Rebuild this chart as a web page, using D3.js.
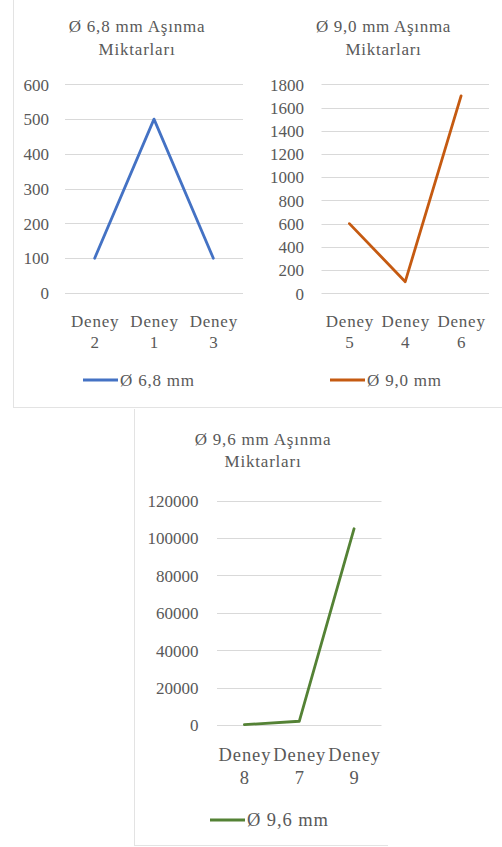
<!DOCTYPE html>
<html>
<head>
<meta charset="utf-8">
<script src="https://cdn.jsdelivr.net/npm/d3@7"></script>
<style>
  html, body { margin: 0; padding: 0; background: #ffffff; }
  svg { display: block; }
</style>
</head>
<body>
<svg id="chart" width="502" height="847"></svg>
<script>
// Wear amounts per drill diameter (Aşınma miktarları)
const categories68 = ["Deney 2", "Deney 1", "Deney 3"];
const values68 = [100, 500, 100];
const ticks68 = [0, 100, 200, 300, 400, 500, 600];

const categories90 = ["Deney 5", "Deney 4", "Deney 6"];
const values90 = [600, 100, 1700];
const ticks90 = [0, 200, 400, 600, 800, 1000, 1200, 1400, 1600, 1800];

const categories96 = ["Deney 8", "Deney 7", "Deney 9"];
const values96 = [200, 2000, 105000];
const ticks96 = [0, 20000, 40000, 60000, 80000, 100000, 120000];

const titles = [
  ["Ø 6,8 mm Aşınma", "Miktarları"],
  ["Ø 9,0 mm Aşınma", "Miktarları"],
  ["Ø 9,6 mm Aşınma", "Miktarları"]
];
const seriesNames = ["Ø 6,8 mm", "Ø 9,0 mm", "Ø 9,6 mm"];

const FONT = "'Liberation Serif', 'Times New Roman', serif";
const TEXT = "#595959";
const GRID = "#d9d9d9";
const FRAME = "#e3e3e3";

const svg = d3.select("#chart");

// Panel frames
const frame = svg.append("g").attr("stroke", FRAME).attr("stroke-width", 1).attr("fill", "none");
frame.append("line").attr("x1", 13.5).attr("x2", 13.5).attr("y1", 0).attr("y2", 407.5);
frame.append("line").attr("x1", 13).attr("x2", 502).attr("y1", 407.5).attr("y2", 407.5);
frame.append("line").attr("x1", 134.5).attr("x2", 134.5).attr("y1", 409).attr("y2", 845.5);
frame.append("line").attr("x1", 134).attr("x2", 388).attr("y1", 845.5).attr("y2", 845.5);

const panels = [
  {
    cats: categories68, vals: values68, ticks: ticks68, title: titles[0], name: seriesNames[0],
    color: "#4472C4", x0: 65, x1: 243, yTop: 84.3, yBottom: 293,
    titleX: 137, titleY: 32, titleGap: 23, labelRight: 49,
    xLab1: 327, xLab2: 348, legX: 83, legY: 380, fs: 17, fsX: 17, ls: 0.8, lsX: 0.8
  },
  {
    cats: categories90, vals: values90, ticks: ticks90, title: titles[1], name: seriesNames[1],
    color: "#C55A11", x0: 321.5, x1: 489, yTop: 84.3, yBottom: 293.3,
    titleX: 383.5, titleY: 32, titleGap: 23, labelRight: 304,
    xLab1: 327, xLab2: 348, legX: 330, legY: 380, fs: 17, fsX: 17, ls: 0.7, lsX: 0.8
  },
  {
    cats: categories96, vals: values96, ticks: ticks96, title: titles[2], name: seriesNames[2],
    color: "#548235", x0: 217, x1: 381.5, yTop: 500.7, yBottom: 725,
    titleX: 263, titleY: 445, titleGap: 22, labelRight: 198.5,
    xLab1: 761, xLab2: 784, legX: 210, legY: 820, fs: 17, fsX: 18.5, ls: 0.8, lsX: 0.9
  }
];

panels.forEach(p => {
  const g = svg.append("g");
  const maxTick = p.ticks[p.ticks.length - 1];

  const x = d3.scalePoint().domain(p.cats).range([p.x0, p.x1]).padding(0.5);
  const y = d3.scaleLinear().domain([0, maxTick]).range([p.yBottom, p.yTop]);

  // Title
  const t = g.append("text")
    .attr("x", p.titleX).attr("y", p.titleY)
    .attr("text-anchor", "middle")
    .attr("letter-spacing", p.ls)
    .attr("font-family", FONT).attr("font-size", p.fs).attr("fill", TEXT);
  p.title.forEach((line, i) => {
    t.append("tspan").attr("x", p.titleX).attr("dy", i === 0 ? 0 : p.titleGap).text(line);
  });

  // Horizontal gridlines
  g.append("g").selectAll("line").data(p.ticks).join("line")
    .attr("x1", p.x0).attr("x2", p.x1)
    .attr("y1", d => Math.round(y(d)) + 0.5).attr("y2", d => Math.round(y(d)) + 0.5)
    .attr("stroke", GRID).attr("stroke-width", 1);

  // Value axis labels
  const yAxis = g.append("g")
    .attr("transform", `translate(${p.labelRight},0)`)
    .call(d3.axisLeft(y).tickValues(p.ticks).tickSize(0).tickPadding(0).tickFormat(d3.format("d")));
  yAxis.select(".domain").remove();
  yAxis.selectAll("text")
    .attr("font-family", FONT).attr("font-size", p.fs).attr("fill", TEXT)
    .attr("dy", "0.34em");

  // Category axis labels (two lines each)
  const xAxis = g.append("g")
    .attr("transform", `translate(0,${p.xLab1})`)
    .call(d3.axisBottom(x).tickSize(0).tickPadding(0));
  xAxis.select(".domain").remove();
  xAxis.selectAll("text").each(function(d) {
    const parts = d.split(" ");
    const el = d3.select(this).text(null)
      .attr("y", 0).attr("dy", null)
      .attr("letter-spacing", p.lsX)
      .attr("font-family", FONT).attr("font-size", p.fsX).attr("fill", TEXT);
    el.append("tspan").attr("x", 0).attr("y", 0).text(parts[0]);
    el.append("tspan").attr("x", 0).attr("y", p.xLab2 - p.xLab1).text(parts[1]);
  });

  // Series line
  const data = p.cats.map((c, i) => ({ c, v: p.vals[i] }));
  g.append("path")
    .datum(data)
    .attr("fill", "none")
    .attr("stroke", p.color)
    .attr("stroke-width", 2.8)
    .attr("stroke-linejoin", "round")
    .attr("stroke-linecap", "round")
    .attr("d", d3.line().x(d => x(d.c)).y(d => y(d.v)));

  // Legend
  const leg = g.append("g").attr("transform", `translate(${p.legX},${p.legY})`);
  leg.append("line").attr("x1", 0).attr("x2", 35).attr("y1", 0).attr("y2", 0)
    .attr("stroke", p.color).attr("stroke-width", 2.8);
  leg.append("text").attr("x", 37).attr("y", 0).attr("dy", "0.34em")
    .attr("letter-spacing", p.lsX)
    .attr("font-family", FONT).attr("font-size", p.fsX).attr("fill", TEXT)
    .text(p.name);
});
</script>
</body>
</html>
